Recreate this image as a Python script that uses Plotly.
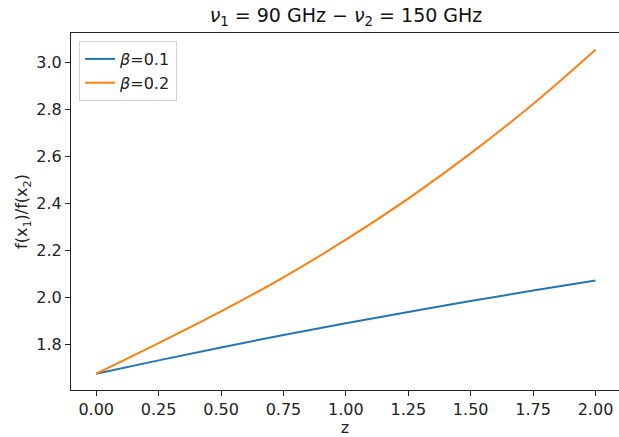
import plotly.graph_objects as go

z = [0.0, 0.25, 0.5, 0.75, 1.0, 1.25, 1.5, 1.75, 2.0]
ratio_b01 = [1.675, 1.732, 1.787, 1.840, 1.890, 1.938, 1.984, 2.029, 2.072]
ratio_b02 = [1.675, 1.805, 1.940, 2.085, 2.245, 2.420, 2.612, 2.822, 3.053]
xticks = [0.0, 0.25, 0.5, 0.75, 1.0, 1.25, 1.5, 1.75, 2.0]
xtick_text = ["0.00", "0.25", "0.50", "0.75", "1.00", "1.25", "1.50", "1.75", "2.00"]
yticks = [1.8, 2.0, 2.2, 2.4, 2.6, 2.8, 3.0]
ytick_text = ["1.8", "2.0", "2.2", "2.4", "2.6", "2.8", "3.0"]

W, H = 619, 437
L, R, T, B = 71, 0, 33, 47
PW = W - L - R
PH = H - T - B

fig = go.Figure()
fig.add_trace(go.Scatter(x=z, y=ratio_b01, mode="lines", name="<i>β</i>=0.1",
                         line=dict(color="#1f77b4", width=2, shape="spline")))
fig.add_trace(go.Scatter(x=z, y=ratio_b02, mode="lines", name="<i>β</i>=0.2",
                         line=dict(color="#ff7f0e", width=2, shape="spline")))

FS = 16
font = dict(family="DejaVu Sans", size=FS, color="#222")
fig.update_layout(
    width=W, height=H, margin=dict(l=L, r=R, t=T, b=B),
    paper_bgcolor="white", plot_bgcolor="white", font=font,
    title=dict(text="<i>ν</i><sub>1</sub> = 90 GHz − <i>ν</i><sub>2</sub> = 150 GHz",
               x=(346 - L) / PW, xref="paper", xanchor="center",
               y=1 - 15 / H, yanchor="middle", font=dict(family="DejaVu Sans", size=19, color="#111")),
    showlegend=True,
    legend=dict(x=(79 - L) / PW, y=1 - (41 - T) / PH, xanchor="left", yanchor="top",
                bgcolor="rgba(255,255,255,0.8)", bordercolor="#d0d0d0", borderwidth=1,
                font=dict(family="DejaVu Sans", size=FS, color="#222"), tracegroupgap=0),
    xaxis=dict(range=[-0.101, 2.0 + (619 - 595.5) / 249.6], tickvals=xticks, ticktext=xtick_text,
               showgrid=False, zeroline=False, showline=True, linecolor="#222", linewidth=1,
               mirror=True, ticks="outside", ticklen=5, tickcolor="#222",
               title=dict(text="z", standoff=0, font=dict(family="DejaVu Sans", size=FS))),
    yaxis=dict(range=[1.606, 3.124], tickvals=yticks, ticktext=ytick_text,
               showgrid=False, zeroline=False, showline=True, linecolor="#222", linewidth=1,
               mirror=False, ticks="outside", ticklen=5, tickcolor="#222",
               title=dict(text="f(x<sub>1</sub>)/f(x<sub>2</sub>)", standoff=4,
                          font=dict(family="DejaVu Sans", size=FS))),
)

fig.write_html("out.html")
